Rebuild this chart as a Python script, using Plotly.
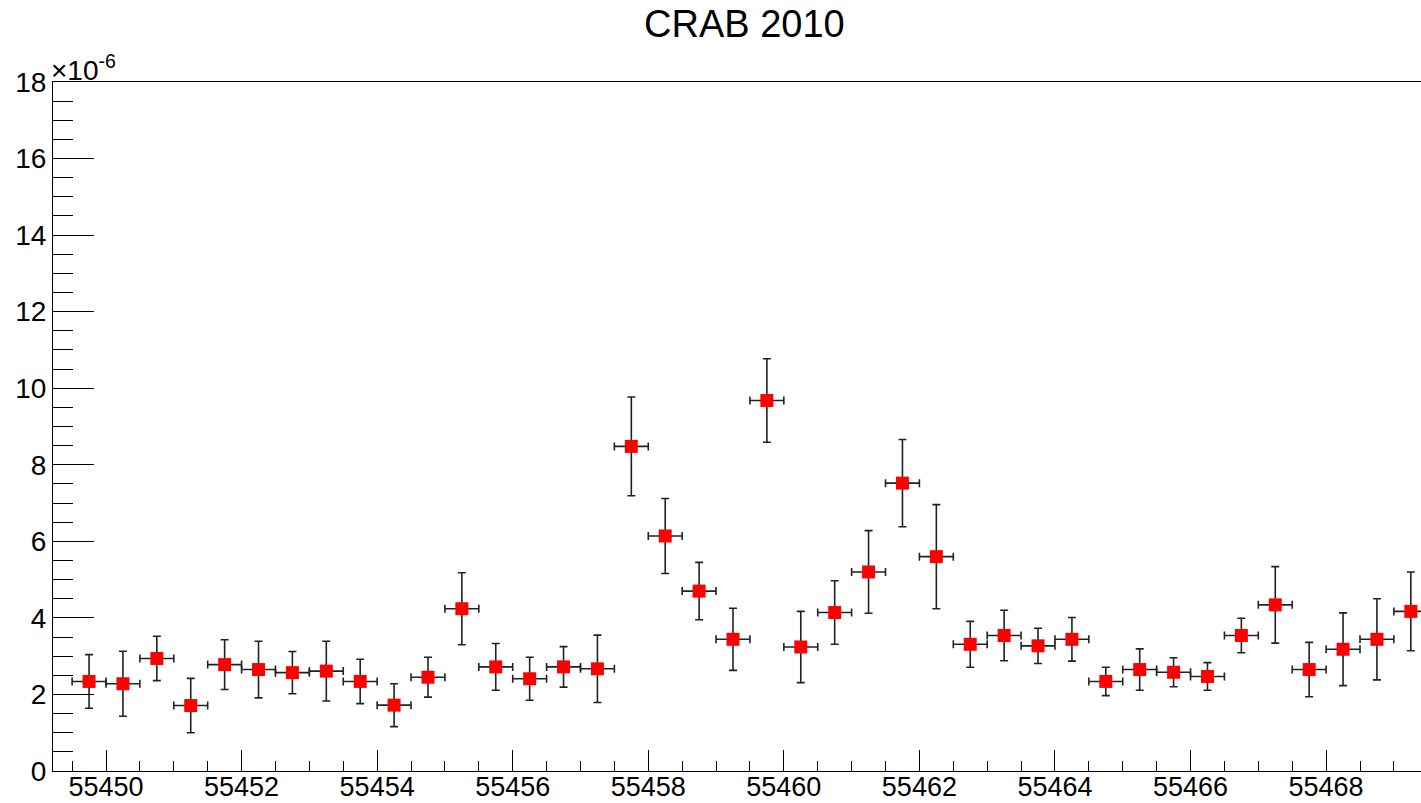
import plotly.graph_objects as go

# Daily-binned light curve (half-day bins), flux in units of 1e-6
mjd = [55449.75 + 0.5 * i for i in range(40)]
flux = [2.34, 2.28, 2.94, 1.71, 2.78, 2.65, 2.57, 2.61, 2.34, 1.72,
        2.45, 4.24, 2.72, 2.41, 2.72, 2.67, 8.48, 6.14, 4.70, 3.44,
        9.68, 3.24, 4.14, 5.20, 7.52, 5.60, 3.31, 3.54, 3.27, 3.44,
        2.34, 2.65, 2.58, 2.47, 3.54, 4.34, 2.65, 3.18, 3.44, 4.17]
flux_err = [0.70, 0.85, 0.58, 0.71, 0.65, 0.74, 0.55, 0.78, 0.58, 0.56,
            0.52, 0.94, 0.61, 0.56, 0.53, 0.88, 1.29, 0.98, 0.75, 0.81,
            1.09, 0.93, 0.83, 1.08, 1.14, 1.36, 0.60, 0.66, 0.46, 0.57,
            0.37, 0.54, 0.38, 0.36, 0.45, 1.00, 0.71, 0.95, 1.06, 1.03]
bin_half_width = [0.25] * len(mjd)

FONT = "Liberation Sans, Arial, Helvetica, sans-serif"

fig = go.Figure()
fig.add_trace(go.Scatter(
    x=mjd, y=flux, mode="markers",
    marker=dict(symbol="square", size=13, color="#ff0000"),
    error_y=dict(type="data", array=flux_err, color="#222222", thickness=1.6, width=4),
    error_x=dict(type="data", array=bin_half_width, color="#222222", thickness=1.6, width=4),
    showlegend=False,
    cliponaxis=True,
))

fig.update_layout(
    width=1421, height=803,
    margin=dict(l=53, r=0, t=82, b=32),
    paper_bgcolor="white", plot_bgcolor="white",
    font=dict(family=FONT, color="black"),
    xaxis=dict(
        range=[55449.218, 55469.40], dtick=2, tick0=55450,
        ticks="inside", ticklen=21, tickwidth=1, tickcolor="black",
        showline=True, linecolor="black", linewidth=1, mirror=True,
        showgrid=False, zeroline=False, automargin=False,
        tickfont=dict(size=27, family=FONT),
        tickformat="d", ticklabelstandoff=-8,
        minor=dict(dtick=0.5, tick0=55450, ticks="inside", ticklen=10,
                   tickcolor="black", tickwidth=1, showgrid=False),
    ),
    yaxis=dict(
        range=[0, 18], dtick=2, tick0=0,
        ticks="inside", ticklen=41, tickwidth=1, tickcolor="black",
        showline=True, linecolor="black", linewidth=1, mirror=False,
        showgrid=False, zeroline=False, automargin=False,
        tickfont=dict(size=28, family=FONT),
        minor=dict(dtick=0.5, tick0=0, ticks="inside", ticklen=20,
                   tickcolor="black", tickwidth=1, showgrid=False),
    ),
    annotations=[
        dict(text="CRAB 2010", x=0.5, y=1, xref="paper", yref="paper",
             showarrow=False, font=dict(size=38, family=FONT), xanchor="center", yanchor="middle"),
        dict(text="×10<sup>-6</sup>", x=0, y=1, xref="paper", yref="paper",
             xanchor="left", yanchor="bottom", showarrow=False,
             font=dict(size=28, family=FONT), xshift=-4, yshift=-6),
    ],
)

# title position is given in pixels; convert to paper fractions
plot_w = 1421 - 53
plot_h = 803 - 82 - 32
fig.layout.annotations[0].x = (744 - 53) / plot_w
fig.layout.annotations[0].y = (771 - 24) / plot_h

fig.write_html("out.html")
